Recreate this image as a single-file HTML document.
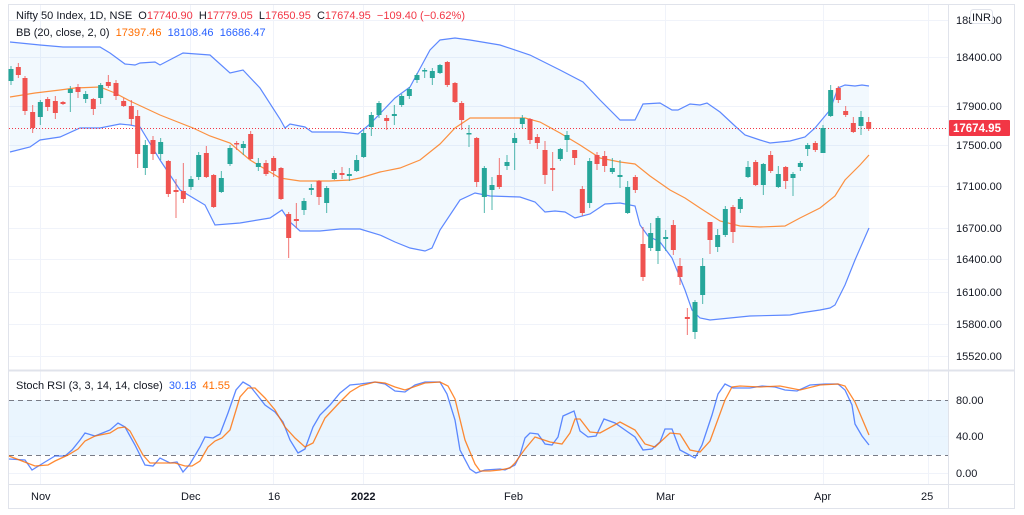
<!DOCTYPE html>
<html><head><meta charset="utf-8"><style>
html,body{margin:0;padding:0;background:#fff;}
svg{display:block;font-family:"Liberation Sans",sans-serif;}
.pre{white-space:pre;}
</style></head><body>
<svg id="c" width="1024" height="515" viewBox="0 0 1024 515" xmlns="http://www.w3.org/2000/svg">
<rect x="0" y="0" width="1024" height="515" fill="#fff"/>
<rect x="8.5" y="4.5" width="1006" height="504" fill="#fff" stroke="#e0e3eb"/>
<g id="grid" stroke="#f0f3fa" stroke-width="1"></g>
<rect x="9" y="400" width="939" height="55" fill="#e3f2fd" opacity="0.75"/>
<line x1="9" y1="400.5" x2="948" y2="400.5" stroke="#787b86" stroke-dasharray="5,4"/>
<line x1="9" y1="455.5" x2="948" y2="455.5" stroke="#787b86" stroke-dasharray="5,4"/>
<g id="bb"></g>
<line x1="9" y1="128.5" x2="948" y2="128.5" stroke="#f23645" stroke-dasharray="1,2"/>
<g id="candles"></g>
<g id="stoch"></g>
<line x1="948.5" y1="4" x2="948.5" y2="509" stroke="#e0e3eb"/>
<line x1="9" y1="370.5" x2="1014" y2="370.5" stroke="#e0e3eb" stroke-width="2"/>
<line x1="9" y1="484.5" x2="1014" y2="484.5" stroke="#e0e3eb"/>
<g font-size="11" fill="#131722">
<text x="956" y="24">18800.00</text>
<text x="956" y="61">18400.00</text>
<text x="956" y="110">17900.00</text>
<text x="956" y="149">17500.00</text>
<text x="956" y="190">17100.00</text>
<text x="956" y="232">16700.00</text>
<text x="956" y="263">16400.00</text>
<text x="956" y="296">16100.00</text>
<text x="956" y="328">15800.00</text>
<text x="956" y="360">15520.00</text>
<text x="956" y="404">80.00</text>
<text x="956" y="440">40.00</text>
<text x="956" y="477">0.00</text>
</g>
<rect x="970.5" y="9.5" width="22" height="14" rx="3" fill="#fff" stroke="#e0e3eb"/>
<text x="972" y="21" font-size="11" fill="#131722">INR</text>
<rect x="949" y="120" width="61" height="16" rx="1" fill="#f23645"/>
<text x="953" y="132" font-size="11.5" font-weight="bold" fill="#fff">17674.95</text>
<g font-size="11" fill="#131722">
<text x="31" y="500">Nov</text>
<text x="181" y="500">Dec</text>
<text x="268" y="500">16</text>
<text x="351" y="500" font-weight="bold">2022</text>
<text x="504" y="500">Feb</text>
<text x="656" y="500">Mar</text>
<text x="814" y="500">Apr</text>
<text x="921" y="500">25</text>
</g>
<g font-size="11">
<text class="pre" x="16" y="19" fill="#131722">Nifty 50 Index, 1D, NSE  <tspan fill="#131722">O</tspan><tspan fill="#f23645">17740.90</tspan>  <tspan fill="#131722">H</tspan><tspan fill="#f23645">17779.05</tspan>  <tspan fill="#131722">L</tspan><tspan fill="#f23645">17650.95</tspan>  <tspan fill="#131722">C</tspan><tspan fill="#f23645">17674.95  −109.40 (−0.62%)</tspan></text>
<text class="pre" x="16" y="36" fill="#131722">BB (20, close, 2, 0)  <tspan fill="#ff6d00">17397.46</tspan>  <tspan fill="#2962ff">18108.46</tspan>  <tspan fill="#2962ff">16686.47</tspan></text>
<text class="pre" x="16" y="389" fill="#131722">Stoch RSI (3, 3, 14, 14, close)  <tspan fill="#2962ff">30.18</tspan>  <tspan fill="#ff6d00">41.55</tspan></text>
</g>
</svg>
<script>
var NS="http://www.w3.org/2000/svg";
function el(p,t,a){var e=document.createElementNS(NS,t);for(var k in a)e.setAttribute(k,a[k]);p.appendChild(e);return e;}
var grid=document.getElementById("grid");
[20,57,106,145,186,228,259,292,324,356,400,436,473].forEach(function(y){el(grid,"line",{x1:9,x2:948,y1:y+.5,y2:y+.5});});
[40,190,273,363,514,665,823,928].forEach(function(x){el(grid,"line",{x1:x+.5,x2:x+.5,y1:5,y2:484});});
function pts(a){return a.map(function(p){return p[0]+","+p[1];}).join(" ");}
var up=[[10,42],[40,45],[63,47],[100,47],[110,53],[125,64],[135,65],[140,63],[155,62],[160,65],[183,53],[210,55],[230,73],[243,70],[260,88],[280,119],[285,128],[290,124],[305,127],[312,132],[340,132],[350,133],[358,134],[370,124],[395,98],[410,87],[430,50],[440,40],[455,38],[470,40],[500,45],[530,55],[560,70],[583,82],[600,100],[620,120],[635,120],[643,104],[660,103],[672,110],[678,110],[690,104],[700,105],[707,103],[720,112],[735,126],[745,135],[760,140],[770,143],[790,141],[805,137],[815,128],[830,110],[838,88],[845,85],[855,86],[862,85],[869,86]];
var mid=[[10,97],[35,93],[60,90],[75,88],[100,87],[115,93],[130,101],[160,115],[193,128],[210,136],[230,143],[250,160],[280,178],[300,181],[330,181],[350,180],[360,178],[380,172],[400,168],[420,160],[440,144],[455,128],[470,118],[500,118],[525,118],[540,122],[560,133],[580,145],[600,158],[620,162],[635,164],[650,176],[670,190],[685,198],[700,208],[720,221],[740,226],[760,227],[785,226],[800,218],[820,208],[835,196],[845,180],[860,165],[869,155]];
var lo=[[10,152],[30,147],[40,140],[60,137],[80,128],[100,128],[120,124],[130,125],[140,127],[160,160],[180,190],[205,205],[215,225],[240,223],[270,218],[282,210],[290,222],[300,231],[320,231],[340,229],[360,229],[380,235],[395,242],[410,248],[425,251],[432,248],[440,230],[460,200],[475,193],[490,196],[520,197],[535,202],[545,212],[555,211],[565,212],[575,218],[590,214],[605,204],[620,203],[635,206],[640,225],[648,236],[660,242],[672,258],[685,290],[692,310],[700,318],[710,320],[730,318],[750,316],[790,315],[800,313],[820,310],[830,308],[835,305],[845,285],[855,260],[869,228]];
var bb=document.getElementById("bb");
el(bb,"polygon",{points:pts(up.concat(lo.slice().reverse())),fill:"rgba(33,150,243,0.06)"});
el(bb,"polyline",{points:pts(up),fill:"none",stroke:"#2962ff","stroke-width":1.2,opacity:.75});
el(bb,"polyline",{points:pts(lo),fill:"none",stroke:"#2962ff","stroke-width":1.2,opacity:.75});
el(bb,"polyline",{points:pts(mid),fill:"none",stroke:"#ff6d00","stroke-width":1.2,opacity:.75});
var groups=[[0,[[33,69,81,66,85,'g'],[55,67,75,63,78,'r'],[75,78,111,76,115,'r'],[98,112,128,105,133,'r'],[121,102,117,100,125,'g'],[143,99,107,97,111,'r'],[166,101,113,96,119,'r'],[189,102,104,101,105,'r'],[211,89,93,86,112,'g'],[234,87,92,84,98,'r'],[257,94,99,91,103,'g'],[280,99,109,98,115,'r'],[302,85,98,83,104,'g'],[325,82,86,75,88,'r'],[348,83,96,80,100,'r'],[371,101,106,98,107,'r'],[394,106,119,100,125,'r'],[413,116,154,110,168,'r'],[436,145,168,140,175,'g'],[459,140,154,136,160,'r'],[482,142,154,138,160,'g'],[505,161,194,160,197,'r'],[528,190,192,179,218,'r'],[550,191,199,163,203,'r'],[573,179,187,176,190,'g'],[596,155,177,152,180,'g'],[619,153,177,146,178,'r'],[641,175,207,174,208,'r'],[664,178,192,171,193,'g']]],
[230,[[0,148,164,145,166,'g'],[20,143,144,141,150,'r'],[40,144,148,141,155,'g'],[62,134,159,131,160,'r'],[85,163,167,158,171,'g'],[108,163,174,160,176,'r'],[131,158,171,156,177,'r'],[153,168,199,167,200,'r'],[176,214,238,212,258,'r'],[199,219,221,203,228,'r'],[222,201,210,198,215,'g'],[244,188,190,184,195,'g'],[267,181,197,180,205,'r'],[290,188,203,186,213,'g'],[313,173,179,170,180,'g'],[336,173,175,167,179,'r'],[358,174,176,168,181,'g'],[380,160,171,155,172,'g'],[401,133,157,130,158,'g'],[424,115,127,112,136,'g'],[447,103,115,101,118,'g'],[470,118,121,115,130,'r'],[493,114,116,105,125,'g'],[515,96,105,94,107,'g'],[538,89,96,87,99,'g'],[561,75,80,73,83,'g'],[584,70,71,68,78,'g'],[607,71,78,68,85,'g'],[630,65,73,64,74,'g'],[652,62,85,61,87,'r'],[675,83,102,82,103,'r']]],
[460,[[5,103,120,101,130,'r'],[27,133,134,125,147,'g'],[50,138,182,137,187,'r'],[73,168,197,166,213,'g'],[96,185,190,177,210,'g'],[118,175,187,158,189,'r'],[141,162,166,155,170,'g'],[164,138,143,133,170,'g'],[187,118,124,115,128,'g'],[210,119,140,118,144,'r'],[232,137,143,134,149,'r'],[255,150,175,141,184,'r'],[278,168,170,152,191,'r'],[301,149,159,148,161,'g'],[321,135,140,131,152,'g'],[344,150,158,150,165,'r'],[367,189,213,186,216,'r'],[389,161,203,158,208,'g'],[411,155,164,152,170,'r'],[434,156,166,151,172,'r'],[457,168,172,158,174,'g'],[480,175,177,160,188,'g'],[503,187,213,181,214,'g'],[526,177,190,175,193,'r'],[549,244,277,227,281,'r'],[572,233,248,223,251,'g'],[594,218,251,216,264,'g'],[617,237,239,230,251,'g'],[640,225,250,220,255,'r']]],
[680,[[0,266,277,258,285,'r'],[22,317,319,308,335,'r'],[45,302,332,300,339,'g'],[68,266,295,258,304,'g'],[90,222,240,222,254,'r'],[113,235,247,229,252,'g'],[136,209,235,206,237,'g'],[159,207,232,205,243,'r'],[181,199,209,197,213,'g'],[204,167,177,161,178,'g'],[227,162,185,160,186,'r'],[250,164,185,163,195,'g'],[272,155,171,151,173,'r'],[295,174,187,166,188,'g'],[317,167,181,166,189,'r'],[339,174,178,172,196,'g'],[361,163,167,161,171,'g'],[383,145,149,143,156,'g'],[406,143,150,141,152,'r'],[429,128,153,125,153,'g'],[452,90,116,85,117,'g'],[475,88,100,86,103,'r'],[497,111,115,106,117,'r'],[520,123,132,117,133,'r'],[543,117,126,111,135,'g'],[566,122,129,117,131,'r']]]];
var cg=document.getElementById("candles");
groups.forEach(function(g){g[1].forEach(function(c){
 var x=g[0]+c[0]/3, col=c[5]=='g'?"#26a69a":"#ef5350";
 el(cg,"line",{x1:x,x2:x,y1:c[3],y2:c[4],stroke:col,"stroke-width":1,opacity:.8});
 var h=Math.max(1.5,c[2]-c[1]);
 el(cg,"rect",{x:x-2.5,y:c[1],width:5,height:h,fill:col});
});});
var sb=[[9,459],[25,460],[32,470],[45,462],[55,456],[65,456],[72,450],[80,440],[85,433],[95,436],[110,430],[118,423],[125,427],[135,445],[145,465],[153,466],[160,458],[170,463],[177,462],[183,472],[190,464],[200,447],[205,437],[213,438],[220,434],[228,413],[236,390],[243,382],[250,386],[258,396],[265,405],[275,412],[283,422],[290,440],[298,453],[305,449],[313,427],[320,415],[330,405],[340,393],[350,385],[360,384],[375,382],[385,384],[395,391],[405,392],[415,385],[425,382],[440,382],[447,394],[455,420],[460,450],[470,469],[476,473],[485,470],[500,469],[505,470],[515,465],[520,455],[525,438],[530,433],[538,434],[545,444],[552,445],[558,437],[563,416],[574,411],[580,431],[588,437],[596,436],[604,419],[615,423],[625,430],[635,437],[643,450],[652,449],[660,442],[665,429],[672,429],[680,450],[695,458],[702,445],[712,415],[718,394],[725,384],[733,388],[750,388],[762,386],[775,387],[785,390],[797,391],[810,385],[825,384],[838,384],[845,390],[852,405],[855,424],[862,436],[869,445]];
var so=[[9,456],[22,461],[35,466],[48,465],[55,461],[68,455],[78,449],[85,441],[95,436],[110,433],[118,428],[125,427],[130,431],[143,455],[150,463],[160,463],[175,463],[185,466],[192,466],[200,461],[208,447],[215,441],[222,438],[230,430],[240,397],[248,388],[255,388],[265,398],[275,410],[285,427],[295,438],[305,447],[313,443],[325,418],[340,402],[350,392],[360,386],[375,382],[385,383],[395,387],[405,390],[425,383],[440,382],[448,386],[455,399],[465,440],[475,464],[480,471],[490,471],[500,470],[510,468],[515,463],[525,449],[535,437],[550,442],[562,444],[570,433],[575,419],[580,419],[590,432],[600,433],[620,422],[635,430],[645,444],[655,447],[670,433],[680,434],[690,450],[700,452],[710,441],[725,400],[732,387],[740,386],[760,387],[780,386],[800,390],[820,385],[838,384],[845,386],[855,402],[869,435]];
var st=document.getElementById("stoch");
el(st,"polyline",{points:pts(sb),fill:"none",stroke:"#2962ff","stroke-width":1.3,opacity:.75});
el(st,"polyline",{points:pts(so),fill:"none",stroke:"#ff6d00","stroke-width":1.3,opacity:.8});
</script>
</body></html>
